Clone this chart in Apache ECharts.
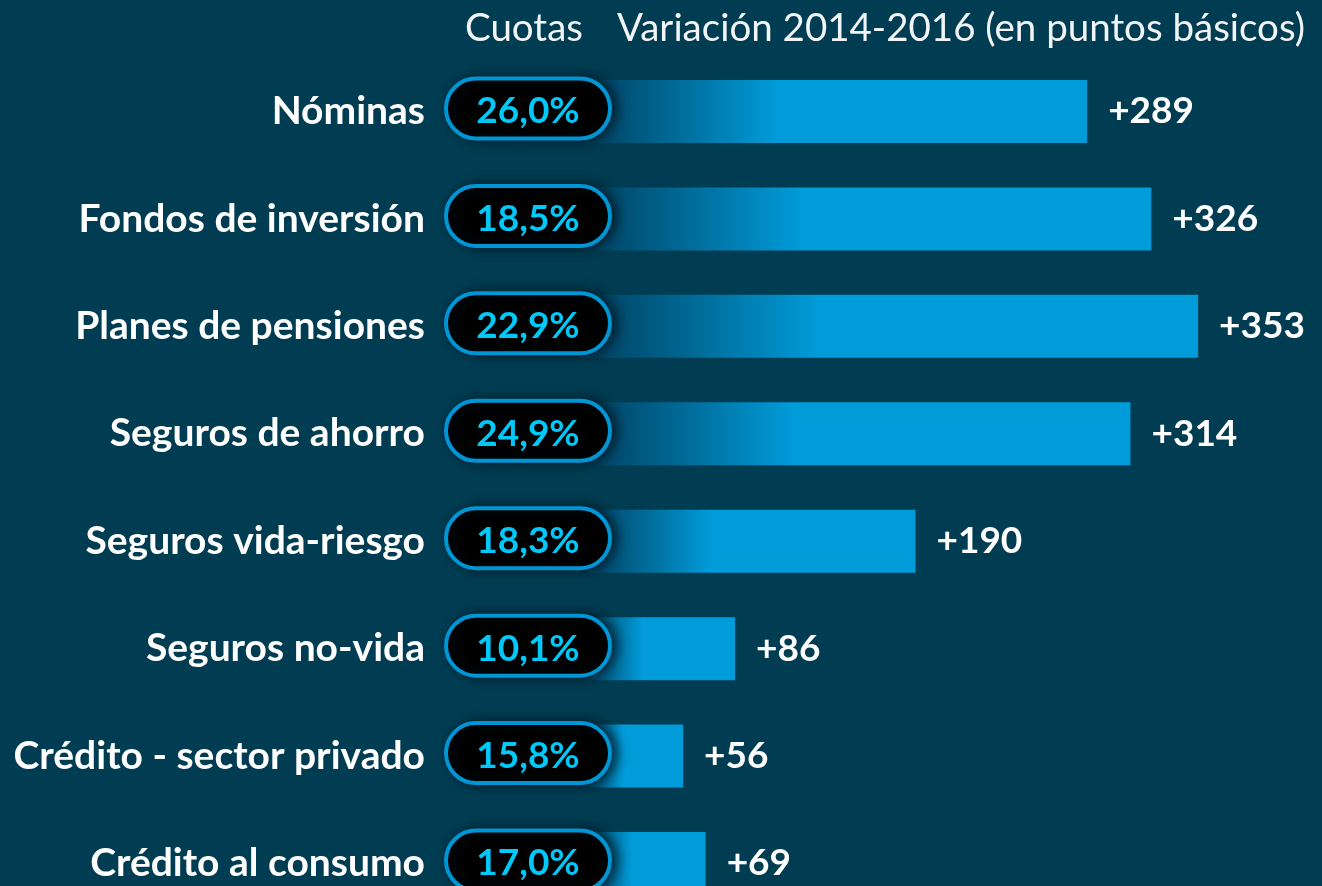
<!DOCTYPE html>
<html><head><meta charset="utf-8">
<script src="https://cdn.jsdelivr.net/npm/echarts@6/dist/echarts.min.js"></script>
<style>html,body{margin:0;padding:0;background:#003c52;}#c{width:1322px;height:886px;}</style>
</head><body><div id="c"></div>
<script>
const categories = ['Nóminas','Fondos de inversión','Planes de pensiones','Seguros de ahorro','Seguros vida-riesgo','Seguros no-vida','Crédito - sector privado','Crédito al consumo'];
const variation = [289, 326, 353, 314, 190, 86, 56, 69];
const cuotas = [26.0, 18.5, 22.9, 24.9, 18.3, 10.1, 15.8, 17.0];
const headerLeft = 'Cuotas';
const headerRight = 'Variación 2014-2016 (en puntos básicos)';

const FONT = 'Lato';
const chart = echarts.init(document.getElementById('c'));
chart.setOption({
  backgroundColor: '#003c52',
  animation: false,
  grid: {left: 586, top: 111.5, width: 693.6, height: 752},
  xAxis: {type: 'value', min: 0, max: 400, show: false},
  yAxis: {
    type: 'category', data: categories, inverse: true, boundaryGap: false,
    axisLine: {show: false}, axisTick: {show: false}, splitLine: {show: false},
    axisLabel: {margin: 161, color: '#ffffff', fontSize: 39, fontWeight: 'bold', fontFamily: FONT}
  },
  graphic: [
    {type: 'text', left: 465, top: 9, style: {text: headerLeft, fill: '#f2f5f7', fontSize: 38.5, fontFamily: FONT}},
    {type: 'text', left: 617, top: 9, style: {text: headerRight, fill: '#f2f5f7', fontSize: 38.5, fontFamily: FONT}}
  ],
  series: [
    {
      type: 'bar', data: variation, barWidth: 63, z: 2, clip: false,
      itemStyle: {
        color: {type: 'linear', x: 0, y: 0, x2: 1, y2: 0, colorStops: [
          {offset: 0, color: '#00405e'}, {offset: 0.38, color: '#009bd9'}, {offset: 1, color: '#009bd9'}
        ]}
      },
      label: {show: true, position: 'right', distance: 21, formatter: p => '+' + p.value,
        color: '#ffffff', fontSize: 37, fontWeight: 'bold', fontFamily: FONT}
    },
    {
      type: 'custom', z: 5, clip: false,
      data: cuotas.map((v, i) => [0, i, v]),
      encode: {x: 0, y: 1},
      renderItem: function (params, api) {
        const p = api.coord([0, api.value(1)]);
        const cx = p[0] - 58, cy = p[1] - 3;
        const txt = api.value(2).toFixed(1).replace('.', ',') + '%';
        return {
          type: 'group',
          children: [
            {type: 'rect', shape: {x: cx - 82, y: cy - 30, width: 164, height: 60, r: 30},
              style: {fill: '#000000', stroke: '#0096d6', lineWidth: 4,
                shadowBlur: 12, shadowColor: 'rgba(0,20,30,0.8)', shadowOffsetX: 5}},
            {type: 'text', x: cx, y: cy + 3,
              style: {text: txt, fill: '#00c8f8', fontSize: 37, fontWeight: 'bold', fontFamily: FONT,
                align: 'center', verticalAlign: 'middle'}}
          ]
        };
      }
    }
  ]
});
</script></body></html>
